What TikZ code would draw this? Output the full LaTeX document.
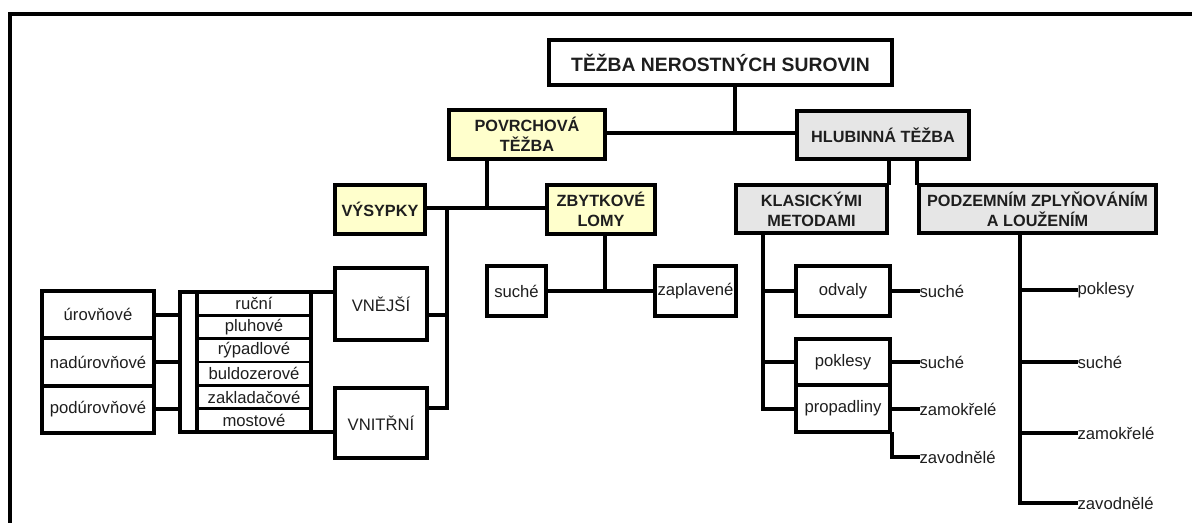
\documentclass[tikz,border=0pt]{standalone}
\usepackage{fontspec}
\setmainfont{Liberation Sans}
\usetikzlibrary{backgrounds}
\definecolor{yel}{HTML}{FFFFCC}
\definecolor{gry}{HTML}{E6E6E6}
\definecolor{ink}{HTML}{1E1E1E}
\begin{document}
\begin{tikzpicture}[x=0.75pt,y=-0.75pt,
  sz/.style 2 args={minimum width=#1*0.75pt, minimum height=#2*0.75pt},
  nbox/.style={draw, line width=3pt, inner sep=0pt, align=center, text=ink,
               font=\fontsize{12.5}{14}\selectfont},
  bbox/.style={nbox, font=\fontsize{12.2}{15}\selectfont\bfseries},
  rowbox/.style={draw, line width=2pt, inner sep=0pt, text=ink,
               font=\fontsize{12.5}{14}\selectfont},
  lbl/.style={anchor=west, inner sep=1pt, text=ink, font=\fontsize{12.5}{14}\selectfont},
  conn/.style={line width=3pt, line cap=rect, line join=miter}]
\useasboundingbox (0,0) rectangle (1192,522);
% frame
\draw[line width=3.5pt] (10,540) -- (10,14) -- (1210,14);

% top level
\node[nbox, sz={343}{45}, font=\fontsize{14.5}{17}\selectfont\bfseries] (top) at (720.5,62.5) {TĚŽBA NEROSTNÝCH SUROVIN};
\node[bbox, fill=yel, sz={156}{49}] (povrch) at (527,134.5) {POVRCHOVÁ\\TĚŽBA};
\node[bbox, fill=gry, sz={172}{48}] (hlub) at (883,135) {HLUBINNÁ TĚŽBA};

% second level
\node[bbox, fill=yel, sz={90}{49}] (vysyp) at (380,209.5) {VÝSYPKY};
\node[bbox, fill=yel, sz={108}{49}] (zbytk) at (601,209.5) {ZBYTKOVÉ\\LOMY};
\node[bbox, fill=gry, sz={151}{48}] (klas) at (811.5,209) {KLASICKÝMI\\METODAMI};
\node[bbox, fill=gry, sz={237}{48}] (podz) at (1037.5,209) {PODZEMNÍM ZPLYŇOVÁNÍM\\A LOUŽENÍM};

% výsypky branch
\node[nbox, sz={92}{72}] (vnej) at (381,304) {VNĚJŠÍ};
\node[nbox, sz={92}{70}] (vnit) at (381,423) {VNITŘNÍ};

\node[rowbox, sz={112}{23.33}] (r1) at (254,303.67) {ruční};
\node[rowbox, sz={112}{23.33}] (r2) at (254,327) {pluhové};
\node[rowbox, sz={112}{23.33}] (r3) at (254,350.33) {rýpadlové};
\node[rowbox, sz={112}{23.33}] (r4) at (254,373.67) {buldozerové};
\node[rowbox, sz={112}{23.33}] (r5) at (254,397) {zakladačové};
\node[rowbox, sz={112}{23.33}] (r6) at (254,420.33) {mostové};

\node[nbox, sz={112}{47.33}] (c1) at (98,314.67) {úrovňové};
\node[nbox, sz={112}{47.33}] (c2) at (98,362) {nadúrovňové};
\node[nbox, sz={112}{47.33}] (c3) at (98,409.33) {podúrovňové};

% zbytkové lomy branch
\node[nbox, sz={59}{50}] (such) at (516.5,291) {suché};
\node[nbox, sz={81}{50}] (zapl) at (695.5,291) {zaplavené};

% klasickými branch
\node[nbox, sz={94}{50}] (odv) at (843,291) {odvaly};
\node[nbox, sz={94}{46}] (pokl) at (843,362) {poklesy};
\node[nbox, sz={94}{47}] (prop) at (843,408.5) {propadliny};
\node[lbl] (k1) at (918,291) {suché};
\node[lbl] (k2) at (918,362) {suché};
\node[lbl] (k3) at (918,409) {zamokřelé};
\node[lbl] (k4) at (918,457) {zavodnělé};

% podzemním branch
\node[lbl] (p1) at (1076,290) {poklesy};
\node[lbl] (p2) at (1076,362) {suché};
\node[lbl] (p3) at (1076,433) {zamokřelé};
\node[lbl] (p4) at (1076,503) {zavodnělé};

% junction coordinates
\coordinate (j1) at (735,133);
\coordinate (j2) at (487,208);
\coordinate (sp) at (447,208);
\coordinate (j3) at (605,291);
\coordinate (ks) at (763,233);
\coordinate (ps) at (1020,233);
\coordinate (bl) at (180,292);
\coordinate (br) at (180,432);

\begin{pgfonlayer}{background}
\draw[conn] (top.south -| j1) -- (j1);
\draw[conn] (povrch.east |- j1) -- (hlub.west |- j1);
\draw[conn] (povrch.south -| j2) -- (j2);
\draw[conn] (vysyp.east |- j2) -- (zbytk.west |- j2);
\draw[conn] (hlub.south -| klas.east) -- (klas.north east);
\draw[conn] (hlub.south -| podz.west) -- (podz.north west);
% left spine
\draw[conn] (sp) -- (sp |- 0,408) -- (vnit.east |- 0,408);
\draw[conn] (vnej.east |- 0,315) -- (sp |- 0,315);
% bracket
\draw[conn] (vnej.west |- bl) -- (bl) -- (br) -- (vnit.west |- br);
\draw[conn] (197,292) -- (197,432);
\draw[conn] (311,292) -- (311,432);
\draw[conn] (c1.east) -- (c1.east -| bl);
\draw[conn] (c2.east) -- (c2.east -| bl);
\draw[conn] (c3.east) -- (c3.east -| bl);
% zbytkové
\draw[conn] (zbytk.south -| j3) -- (j3);
\draw[conn] (such.east) -- (zapl.west);
% klasickými
\draw[conn] (klas.south -| ks) -- (ks |- prop.west) -- (prop.west);
\draw[conn] (ks |- odv.west) -- (odv.west);
\draw[conn] (ks |- pokl.west) -- (pokl.west);
\draw[conn] (odv.east) -- (k1.west);
\draw[conn] (pokl.east) -- (k2.west);
\draw[conn] (prop.east |- k3.west) -- (k3.west);
\draw[conn] (prop.south east) -- (prop.south east |- k4.west) -- (k4.west);
% podzemním
\draw[conn] (podz.south -| ps) -- (ps |- p4.west) -- (p4.west);
\draw[conn] (ps |- p1.west) -- (p1.west);
\draw[conn] (ps |- p2.west) -- (p2.west);
\draw[conn] (ps |- p3.west) -- (p3.west);
\end{pgfonlayer}
\end{tikzpicture}
\end{document}
